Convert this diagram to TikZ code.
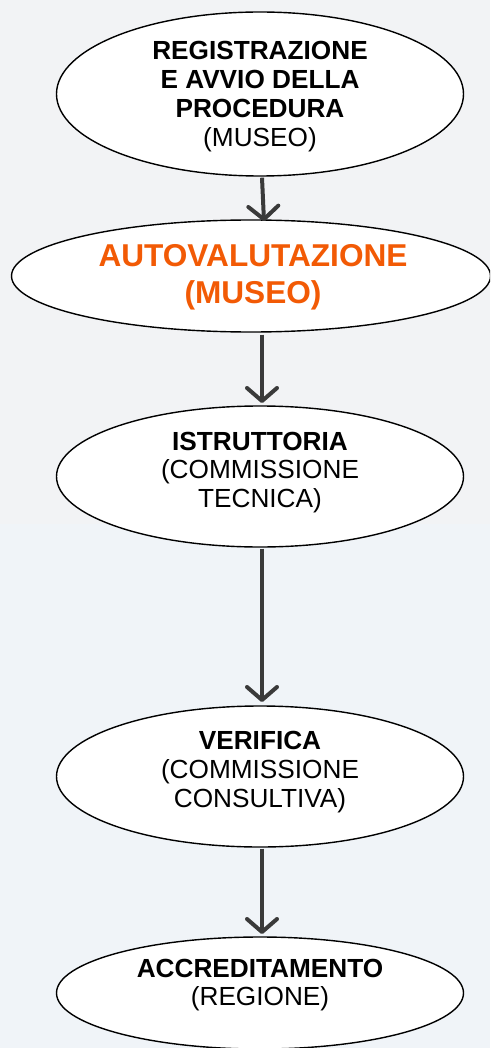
\documentclass[tikz,border=0pt]{standalone}
\usepackage{fontspec}
\setmainfont{Liberation Sans}
\usetikzlibrary{shapes.geometric,arrows.meta}
\definecolor{bgtop}{RGB}{242,243,245}
\definecolor{bgbot}{RGB}{240,244,248}
\definecolor{orng}{RGB}{242,90,5}
\definecolor{arrowgrey}{RGB}{58,58,58}
\tikzset{
  stage/.style={ellipse, draw=black, line width=1.4pt, fill=white, inner sep=0pt},
  lbl/.style={align=center, font=\fontsize{26.2}{28.8}\selectfont, text=black},
  olbl/.style={align=center, font=\fontsize{31.6}{36.5}\selectfont\bfseries, text=orng},
  flow/.style={draw=arrowgrey, line width=4pt,
    -{Straight Barb[length=13pt,width=30pt,line cap=round,line join=round]}}
}
\begin{document}
\begin{tikzpicture}[x=1pt,y=-1pt]
\useasboundingbox (0,0) rectangle (490,1048);
\fill[bgtop] (0,0) rectangle (490,524);
\fill[bgbot] (0,524) rectangle (490,1048);
\begin{scope}
\clip (0,0) rectangle (490,1048);
\node[stage, minimum width=407pt, minimum height=164pt] (e1) at (260,94) {};
\node[stage, minimum width=479pt, minimum height=112pt] (e2) at (251,276) {};
\node[stage, minimum width=407pt, minimum height=141pt] (e3) at (260,476.5) {};
\node[stage, minimum width=407pt, minimum height=141pt] (e4) at (260,776.5) {};
\node[stage, minimum width=407pt, minimum height=112pt] (e5) at (260,993) {};
\end{scope}
\node[lbl] (t1) at (260,96.5) {\textbf{REGISTRAZIONE}\\\textbf{E AVVIO DELLA}\\\textbf{PROCEDURA}\\(MUSEO)};
\node[olbl] (t2) at (253,277) {AUTOVALUTAZIONE\\(MUSEO)};
\node[lbl] (t3) at (260,472.5) {\textbf{ISTRUTTORIA}\\(COMMISSIONE\\TECNICA)};
\node[lbl] (t4) at (260,772) {\textbf{VERIFICA}\\(COMMISSIONE\\CONSULTIVA)};
\node[lbl] (t5) at (260,985) {\textbf{ACCREDITAMENTO}\\(REGIONE)};
\draw[flow] (e1.south) ++(2,1) coordinate (a1s) -- ([xshift=2pt,yshift=-2pt]e2.north -| a1s);
\draw[flow] (e2.south -| 262,0) ++(0,2) -- (262,403);
\draw[flow] (e3.south) ++(2,1) -- (262,702);
\draw[flow] (e4.south) ++(2,1) -- (262,934);
\end{tikzpicture}
\end{document}
